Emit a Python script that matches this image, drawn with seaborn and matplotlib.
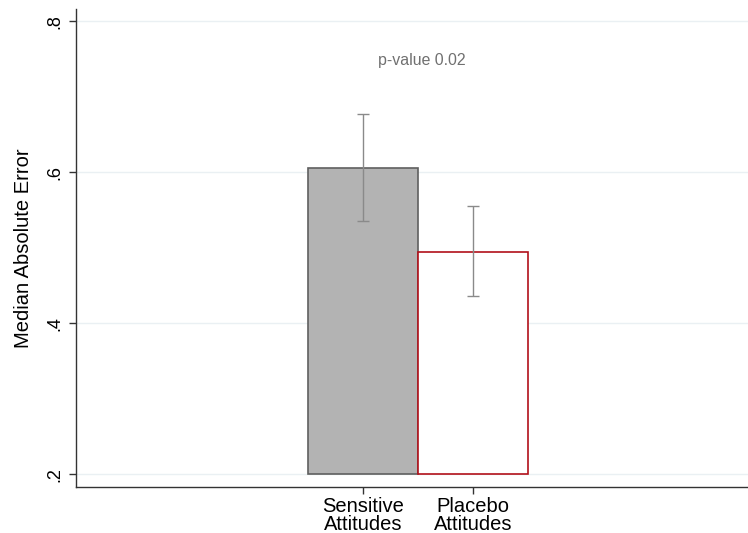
import matplotlib
matplotlib.use("Agg")
import matplotlib.pyplot as plt
import seaborn as sns
import numpy as np
import pandas as pd

sns.set_style("white")
plt.rcParams['font.family'] = ['Liberation Sans', 'DejaVu Sans']
plt.rcParams['text.color'] = 'black'
plt.rcParams['axes.labelcolor'] = 'black'
plt.rcParams['xtick.color'] = 'black'
plt.rcParams['ytick.color'] = 'black'

categories = ["Sensitive\nAttitudes", "Placebo\nAttitudes"]
values = [0.605, 0.494]
ci_low = [0.535, 0.436]
ci_high = [0.677, 0.555]
base = 0.2
yticks = [0.2, 0.4, 0.6, 0.8]
ytick_labels = [".2", ".4", ".6", ".8"]
annotation = "p-value 0.02"

df = pd.DataFrame({"cat": categories, "height": [v - base for v in values]})

fig = plt.figure(figsize=(7.48, 5.33), dpi=100)
ax = fig.add_axes([76/748, 46/533, 672/748, (487-9)/533])

sns.barplot(data=df, x="cat", y="height", hue="cat", palette=["#b3b3b3", "white"],
            width=1.0, errorbar=None, bottom=base, legend=False, ax=ax)
edges = ["#5f5f5f", "#b2101a"]
for p, ec in zip(ax.patches, edges):
    p.set_edgecolor(ec)
    p.set_linewidth(1.2)

x = np.arange(len(categories))
ax.errorbar(x, values, yerr=[np.array(values) - np.array(ci_low), np.array(ci_high) - np.array(values)],
            fmt="none", ecolor="#8a8a8a", elinewidth=1.0, capsize=4.5, capthick=1.0, zorder=5)

ax.set_xlim(-2.61, 3.5)
ax.set_ylim(0.183, 0.816)
ax.set_yticks(yticks)
ax.set_yticklabels(ytick_labels, rotation=90, va="center", fontsize=13)
ax.tick_params(axis="x", labelsize=14.5, length=5, width=1, color="#333333", pad=2)
ax.tick_params(axis="y", length=5, width=1, color="#333333", pad=4, left=True)
ax.tick_params(axis="x", bottom=True)
for lbl in ax.get_xticklabels():
    lbl.set_linespacing(0.95)
ax.set_xlabel("")
ax.set_ylabel("Median Absolute Error", fontsize=14.5, labelpad=10)
ax.yaxis.grid(True, color="#eaf0f3", linewidth=1.0)
ax.set_axisbelow(True)
for s in ["top", "right"]:
    ax.spines[s].set_visible(False)
for s in ["left", "bottom"]:
    ax.spines[s].set_color("#333333")
    ax.spines[s].set_linewidth(1.0)

ax.text(0.5 + 0.03, 0.748, annotation, ha="center", va="center", fontsize=11.4, color="#707070")

fig.savefig("out.png", dpi=100)
